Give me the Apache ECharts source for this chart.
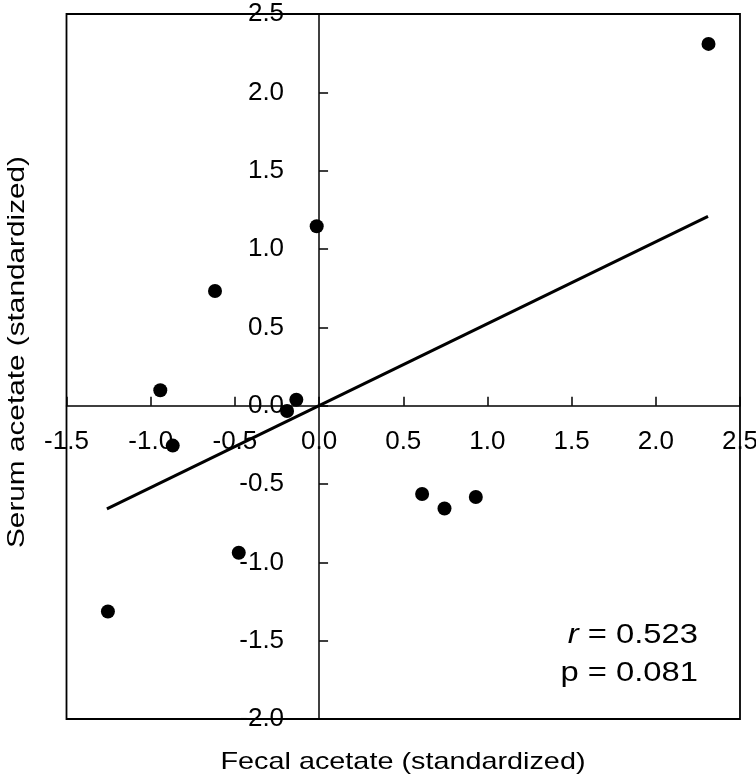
<!DOCTYPE html>
<html>
<head>
<meta charset="utf-8">
<script src="https://cdn.jsdelivr.net/npm/echarts@6/dist/echarts.min.js"></script>
<style>html,body{margin:0;padding:0;background:#fff;}#c{width:756px;height:780px;}</style>
</head>
<body>
<div id="c"></div>
<script>
// Data
const fecalAcetate = [2.313, -0.014, -0.618, -0.943, -0.135, -0.190, -0.869, -0.477, -1.254, 0.612, 0.745, 0.931];
const serumAcetate = [2.309, 1.145, 0.732, 0.098, 0.038, -0.034, -0.255, -0.939, -1.314, -0.564, -0.656, -0.583];
const fitSlope = 0.523;
const fitXRange = [-1.26, 2.31];
const xTicks = [-1.5, -1.0, -0.5, 0.0, 0.5, 1.0, 1.5, 2.0, 2.5];
const yTicks = [-2.0, -1.5, -1.0, -0.5, 0.0, 0.5, 1.0, 1.5, 2.0, 2.5];
const rValue = '0.523';
const pValue = '0.081';
const xTitle = 'Fecal acetate (standardized)';
const yTitle = 'Serum acetate (standardized)';

const FONT = '"Liberation Sans", Arial, sans-serif';
const points = fecalAcetate.map((x, i) => [x, serumAcetate[i]]);
const fitLine = fitXRange.map(x => [x, x * fitSlope]);

const G = {left: 66.5, right: 16, top: 14, bottom: 61};
const W = 756, H = 780;

const chart = echarts.init(document.getElementById('c'), null, {renderer: 'canvas'});
function build(xMargin, yMargin) {
  return {
    backgroundColor: '#fff',
    animation: false,
    grid: {left: G.left, right: G.right, top: G.top, bottom: G.bottom, outerBoundsMode: 'none', containLabel: false,
           show: true, borderColor: '#000', borderWidth: 1.8, backgroundColor: 'transparent'},
    xAxis: {
      type: 'value', min: xTicks[0], max: xTicks[xTicks.length - 1], interval: 0.5,
      axisLine: {onZero: true, lineStyle: {color: '#000', width: 1.5}},
      axisTick: {show: true, inside: true, length: 9, lineStyle: {color: '#000', width: 1.5}},
      axisLabel: {color: '#000', fontSize: 26, fontFamily: FONT, margin: xMargin, formatter: v => v.toFixed(1), showMinLabel: true, showMaxLabel: true, hideOverlap: false},
      splitLine: {show: false}
    },
    yAxis: {
      type: 'value', min: yTicks[0], max: yTicks[yTicks.length - 1], interval: 0.5,
      axisLine: {onZero: true, lineStyle: {color: '#000', width: 1.5}},
      axisTick: {show: true, inside: true, length: 9, lineStyle: {color: '#000', width: 1.5}},
      axisLabel: {color: '#000', fontSize: 26, fontFamily: FONT, margin: yMargin, formatter: v => v.toFixed(1), showMinLabel: true, showMaxLabel: true, hideOverlap: false},
      splitLine: {show: false}
    },
    series: [
      {type: 'line', data: fitLine, symbol: 'none', lineStyle: {color: '#000', width: 3}, z: 3},
      {type: 'scatter', data: points, symbol: 'circle', symbolSize: 14, itemStyle: {color: '#000', opacity: 1}, z: 4}
    ],
    graphic: [
      {type: 'text', x: 403, y: 762, scaleX: 1.2, style: {text: xTitle, font: '24px ' + FONT, fill: '#000', align: 'center', verticalAlign: 'middle'}},
      {type: 'text', rotation: Math.PI / 2, x: 17, y: 352, scaleX: 1.24, style: {text: yTitle, font: '24px ' + FONT, fill: '#000', align: 'center', verticalAlign: 'middle'}},
      {type: 'text', x: 698, y: 635, scaleX: 1.17, style: {text: '{i|r} = ' + rValue, rich: {i: {fontStyle: 'italic', fontSize: 28, fontFamily: FONT}}, font: '28px ' + FONT, fill: '#000', align: 'right', verticalAlign: 'middle'}},
      {type: 'text', x: 698, y: 673, scaleX: 1.17, style: {text: 'p = ' + pValue, font: '28px ' + FONT, fill: '#000', align: 'right', verticalAlign: 'middle'}}
    ]
  };
}
chart.setOption(build(20, 35));
// place tick labels next to the zero lines (where the axis lines sit)
const zero = chart.convertToPixel({gridIndex: 0}, [0, 0]);
const bottomEdge = H - G.bottom;
const xMargin = 23 - (bottomEdge - zero[1]);
const yMargin = 35 - (zero[0] - G.left);
chart.setOption(build(xMargin, yMargin));
</script>
</body>
</html>
